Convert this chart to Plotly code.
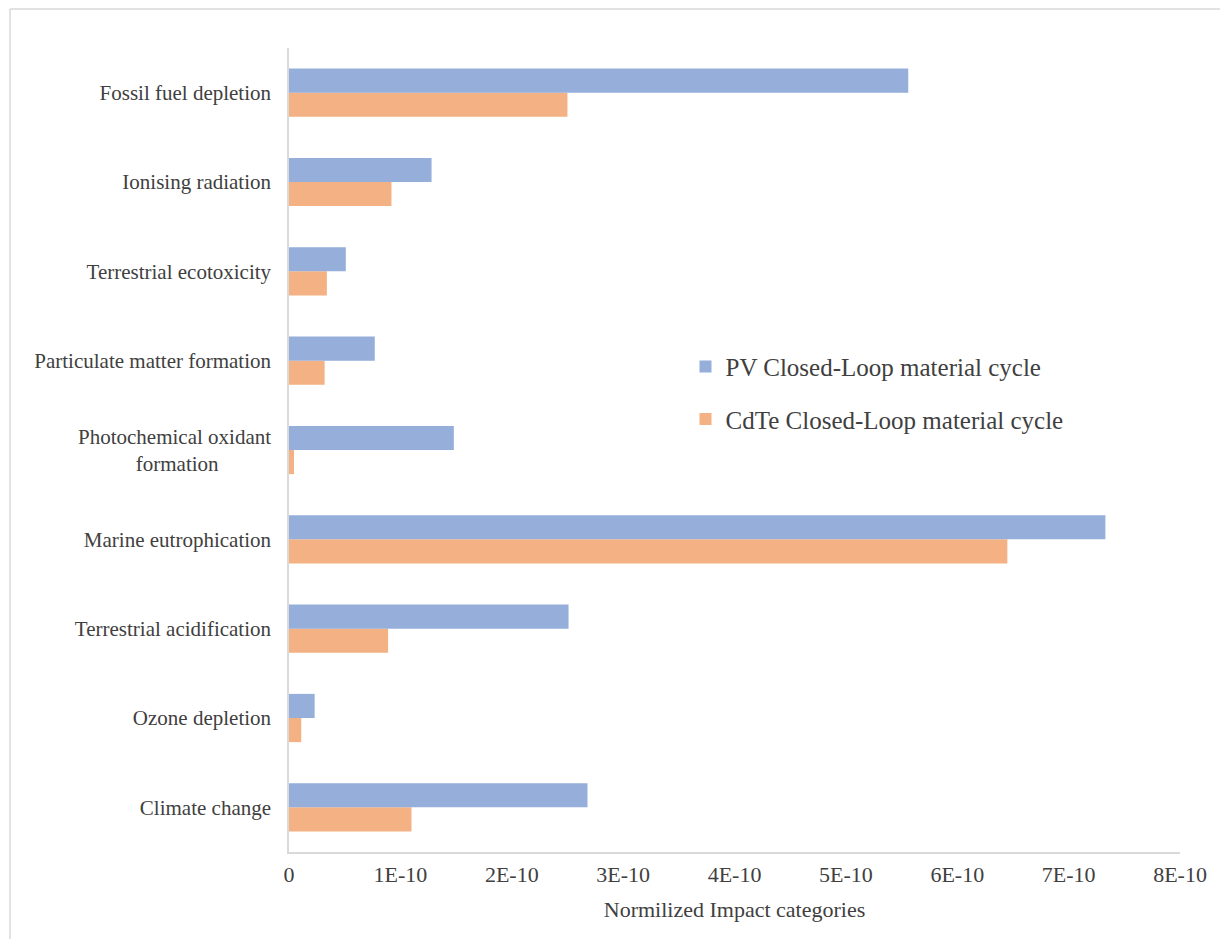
import plotly.graph_objects as go

# Impact categories, listed bottom-to-top as they appear on the axis
categories = [
    "Climate change",
    "Ozone depletion",
    "Terrestrial acidification",
    "Marine eutrophication",
    "Photochemical oxidant<br>formation" + "\u00a0" * 10,
    "Particulate matter formation",
    "Terrestrial ecotoxicity",
    "Ionising radiation",
    "Fossil fuel depletion",
]

pv_values = [2.68e-10, 0.23e-10, 2.51e-10, 7.33e-10, 1.48e-10, 0.77e-10, 0.51e-10, 1.28e-10, 5.56e-10]
cdte_values = [1.10e-10, 0.11e-10, 0.89e-10, 6.45e-10, 0.045e-10, 0.32e-10, 0.34e-10, 0.92e-10, 2.50e-10]

x_tick_values = [0, 1e-10, 2e-10, 3e-10, 4e-10, 5e-10, 6e-10, 7e-10, 8e-10]
x_tick_labels = ["0", "1E-10", "2E-10", "3E-10", "4E-10", "5E-10", "6E-10", "7E-10", "8E-10"]

BLUE = "#95AEDA"
ORANGE = "#F4B183"
GRID = "#D9D9D9"
FONT = "Liberation Serif"
TEXT = "#404040"

fig = go.Figure()
# Orange first so it sits in the lower slot of each group
fig.add_trace(go.Bar(
    y=categories, x=cdte_values, orientation="h",
    name="CdTe Closed-Loop material cycle",
    marker=dict(color=ORANGE, line=dict(width=0)),
    legendgroup="cdte", legendrank=2,
))
fig.add_trace(go.Bar(
    y=categories, x=pv_values, orientation="h",
    name="PV Closed-Loop material cycle",
    marker=dict(color=BLUE, line=dict(width=0)),
    legendgroup="pv", legendrank=1,
))

fig.update_layout(
    width=1220, height=939,
    margin=dict(l=289, r=40, t=48, b=87),
    paper_bgcolor="white", plot_bgcolor="white",
    barmode="group", bargap=0.46, bargroupgap=0,
    font=dict(family=FONT, color=TEXT, size=21),
    legend=dict(
        x=0.445, y=0.632, xanchor="left", yanchor="top",
        traceorder="grouped", tracegroupgap=17,
        font=dict(family=FONT, size=25, color=TEXT),
        itemwidth=30, bgcolor="rgba(0,0,0,0)",
    ),
    xaxis=dict(
        range=[0, 8e-10], tickvals=x_tick_values, ticktext=x_tick_labels,
        showgrid=False, zeroline=False,
        showline=True, linecolor=GRID, linewidth=1.5,
        ticks="", ticklabelstandoff=2,
        tickfont=dict(family=FONT, size=22, color=TEXT),
        title=dict(text="Normilized Impact categories", standoff=15,
                   font=dict(family=FONT, size=22, color=TEXT)),
    ),
    yaxis=dict(
        categoryorder="array", categoryarray=categories,
        showgrid=False, zeroline=False,
        showline=True, linecolor=GRID, linewidth=1.5,
        ticks="", ticklabelstandoff=12,
        tickfont=dict(family=FONT, size=21, color=TEXT),
    ),
)

# Light outer frame lines along the top and left edges
fig.add_shape(type="line", xref="paper", yref="paper",
              x0=-0.3131, x1=1.05, y0=1.0485, y1=1.0485,
              line=dict(color=GRID, width=1.5))
fig.add_shape(type="line", xref="paper", yref="paper",
              x0=-0.3131, x1=-0.3131, y0=1.0485, y1=-0.12,
              line=dict(color=GRID, width=1.5))

fig.write_html("out.html")
